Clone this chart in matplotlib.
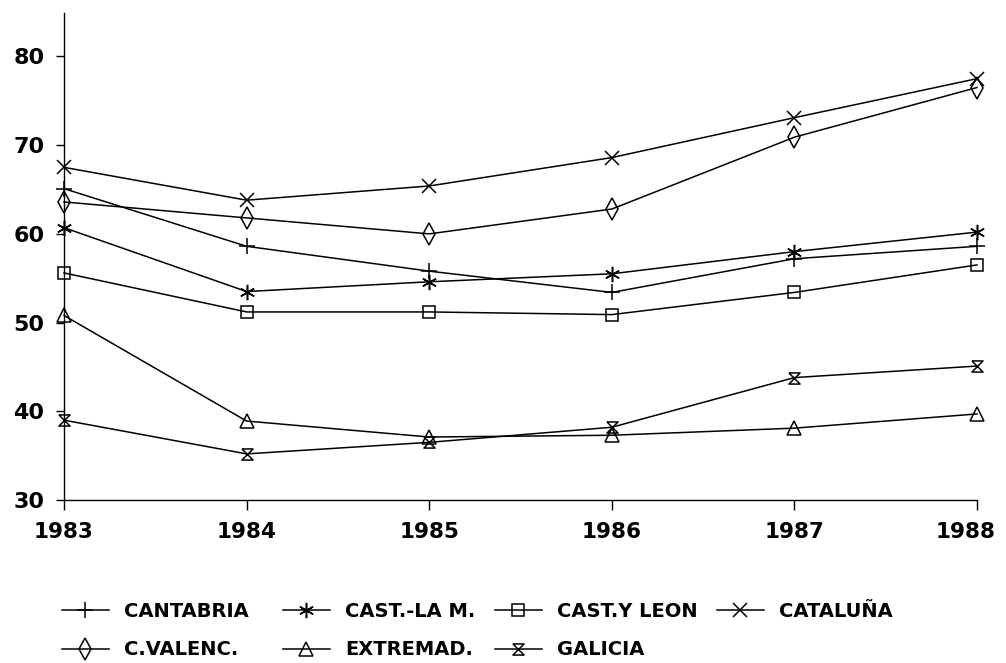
import numpy as np
import matplotlib
matplotlib.use("Agg")
from matplotlib import pyplot as plt
import matplotlib.transforms as mtrans

# data
years = [1983, 1984, 1985, 1986, 1987, 1988]
cantabria = [65.1, 58.6, 55.8, 53.4, 57.2, 58.6]
cast_la_m = [60.7, 53.5, 54.6, 55.5, 58.0, 60.2]
cast_y_leon = [55.6, 51.2, 51.2, 50.9, 53.4, 56.5]
cataluna = [67.5, 63.8, 65.4, 68.6, 73.1, 77.5]
c_valenc = [63.6, 61.8, 60.0, 62.8, 70.9, 76.5]
extremad = [50.8, 38.9, 37.1, 37.3, 38.1, 39.7]
galicia = [39.0, 35.2, 36.5, 38.2, 43.8, 45.1]

names = ["CANTABRIA", "CAST.-LA M.", "CAST.Y LEON", "CATALUÑA",
         "C.VALENC.", "EXTREMAD.", "GALICIA"]
yticks = [30, 40, 50, 60, 70, 80]

hourglass = [(-1, 1), (1, 1), (-1, -1), (1, -1), (-1, 1)]
styles = [
    dict(marker="+", ms=12),
    dict(marker=(6, 2, 0), ms=11),
    dict(marker="s", ms=8.5),
    dict(marker="x", ms=9.5),
    dict(marker="d", ms=11),
    dict(marker="^", ms=9.5),
    dict(marker=hourglass, ms=8),
]

plt.rcParams["font.family"] = "DejaVu Sans"
plt.rcParams["font.weight"] = "bold"

fig = plt.figure(figsize=(10.06, 6.63), dpi=100)
ax = fig.add_axes([64 / 1006, 163 / 663, 913 / 1006, 487 / 663])

series = [cantabria, cast_la_m, cast_y_leon, cataluna, c_valenc, extremad, galicia]
handles = []
for vals, st in zip(series, styles):
    ln, = ax.plot(years, vals, color="black", lw=1.1, mfc="none", mec="black",
                  mew=1.1, clip_on=False, **st)
    handles.append(ln)

ax.set_xlim(1983, 1988)
ax.set_ylim(30, 84.9)
ax.set_xticks(years)
ax.set_yticks(yticks)
for s in ["top", "right"]:
    ax.spines[s].set_visible(False)
for s in ["left", "bottom"]:
    ax.spines[s].set_linewidth(1.0)
ax.tick_params(axis="y", direction="out", length=6, width=1, pad=8, labelsize=16)
ax.tick_params(axis="x", direction="out", length=7, width=1, pad=9, labelsize=15.5)
for lab in ax.get_xticklabels() + ax.get_yticklabels():
    lab.set_fontweight("bold")

# last year label sits a little left of its tick, as in the scan
last = ax.get_xticklabels()[-1]
last.set_transform(last.get_transform() +
                   mtrans.ScaledTranslation(-11 / 100, 0, fig.dpi_scale_trans))

# legend laid out as a 4 column grid, filled row by row
col_x = [62, 283, 495, 717]
for c in range(4):
    idx = [i for i in (c, c + 4) if i < len(names)]
    fig.legend([handles[i] for i in idx], [names[i] for i in idx],
               loc="upper left", bbox_to_anchor=(col_x[c] / 1006, 1 - 602 / 663),
               frameon=False, borderpad=0, borderaxespad=0, handlelength=2.4,
               handletextpad=0.8, labelspacing=1.0,
               prop=dict(size=14, weight="bold"))

fig.savefig("out.png", dpi=100)
